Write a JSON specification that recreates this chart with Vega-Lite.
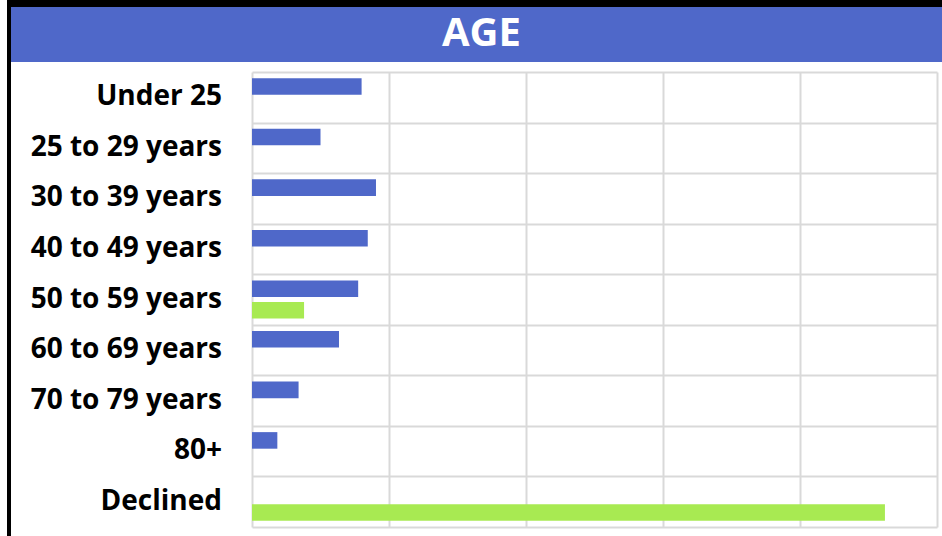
{
  "$schema": "https://vega.github.io/schema/vega-lite/v6.json",
  "background": "white",
  "padding": {"left": 7, "top": 0, "right": 0, "bottom": 0},
  "config": {
    "view": {"stroke": null},
    "font": "Open Sans"
  },
  "datasets": {
    "bars": [
      {"age": "Under 25", "series": "Series 1", "value": 8.0},
      {"age": "25 to 29 years", "series": "Series 1", "value": 5.0},
      {"age": "30 to 39 years", "series": "Series 1", "value": 9.05},
      {"age": "40 to 49 years", "series": "Series 1", "value": 8.45},
      {"age": "50 to 59 years", "series": "Series 1", "value": 7.75},
      {"age": "50 to 59 years", "series": "Series 2", "value": 3.8},
      {"age": "60 to 69 years", "series": "Series 1", "value": 6.35},
      {"age": "70 to 79 years", "series": "Series 1", "value": 3.4},
      {"age": "80+", "series": "Series 1", "value": 1.85},
      {"age": "Declined", "series": "Series 2", "value": 46.2}
    ],
    "cats": [
      {"age": "Under 25"},
      {"age": "25 to 29 years"},
      {"age": "30 to 39 years"},
      {"age": "40 to 49 years"},
      {"age": "50 to 59 years"},
      {"age": "60 to 69 years"},
      {"age": "70 to 79 years"},
      {"age": "80+"},
      {"age": "Declined"}
    ],
    "heading": [{"label": "AGE"}]
  },
  "spacing": 0,
  "hconcat": [
    {
      "width": 4,
      "height": 536,
      "data": {"name": "heading"},
      "mark": {"type": "rect", "color": "#000000"},
      "encoding": {}
    },
    {
      "spacing": 0,
      "vconcat": [
        {
          "width": 931,
          "height": 7,
          "data": {"name": "heading"},
          "mark": {"type": "rect", "color": "#000000"},
          "encoding": {}
        },
        {
          "width": 931,
          "height": 55,
          "data": {"name": "heading"},
          "layer": [
            {"mark": {"type": "rect", "color": "#4F68C9"}, "encoding": {}},
            {
              "mark": {"type": "text", "font": "Open Sans", "fontWeight": "bold", "fontSize": 40, "color": "#FFFFFF", "align": "center", "baseline": "middle", "dx": 5, "dy": -1},
              "encoding": {"text": {"field": "label"}}
            }
          ]
        },
        {
          "spacing": 0,
          "hconcat": [
            {
              "width": 241,
              "height": 455,
              "data": {"name": "cats"},
              "mark": {"type": "text", "font": "Open Sans", "fontWeight": "bold", "fontSize": 28, "color": "#000000", "align": "right", "baseline": "middle", "dx": -30},
              "encoding": {
                "y": {
                  "field": "age",
                  "type": "nominal",
                  "sort": null,
                  "scale": {"domain": ["Under 25", "25 to 29 years", "30 to 39 years", "40 to 49 years", "50 to 59 years", "60 to 69 years", "70 to 79 years", "80+", "Declined"], "paddingInner": 0, "paddingOuter": 0},
                  "axis": null
                },
                "x": {"datum": 1, "type": "quantitative", "scale": {"domain": [0, 1]}, "axis": null},
                "text": {"field": "age"}
              }
            },
            {
              "width": 685,
              "height": 455,
              "data": {"name": "bars"},
              "mark": {"type": "bar"},
              "encoding": {
                "y": {
                  "field": "age",
                  "type": "nominal",
                  "sort": null,
                  "scale": {"domain": ["Under 25", "25 to 29 years", "30 to 39 years", "40 to 49 years", "50 to 59 years", "60 to 69 years", "70 to 79 years", "80+", "Declined"], "paddingInner": 0, "paddingOuter": 0},
                  "axis": {
                    "title": null,
                    "domain": false,
                    "ticks": false,
                    "labels": false,
                    "tickBand": "extent",
                    "grid": true,
                    "gridColor": "#D9D9D9",
                    "gridWidth": 2,
                    "minExtent": 0,
                    "maxExtent": 0
                  }
                },
                "yOffset": {
                  "field": "series",
                  "type": "nominal",
                  "scale": {"domain": ["Series 1", "Series 2"], "paddingInner": 0.23, "paddingOuter": 0.29}
                },
                "x": {
                  "field": "value",
                  "type": "quantitative",
                  "scale": {"domain": [0, 50], "nice": false},
                  "axis": {
                    "orient": "top",
                    "title": null,
                    "values": [0, 10, 20, 30, 40, 50],
                    "labels": false,
                    "ticks": false,
                    "domain": false,
                    "grid": true,
                    "gridColor": "#D9D9D9",
                    "gridWidth": 2,
                    "minExtent": 10,
                    "maxExtent": 10
                  }
                },
                "color": {
                  "field": "series",
                  "type": "nominal",
                  "scale": {"domain": ["Series 1", "Series 2"], "range": ["#4F68C9", "#A8EA52"]},
                  "legend": null
                }
              }
            }
          ]
        }
      ]
    }
  ]
}
